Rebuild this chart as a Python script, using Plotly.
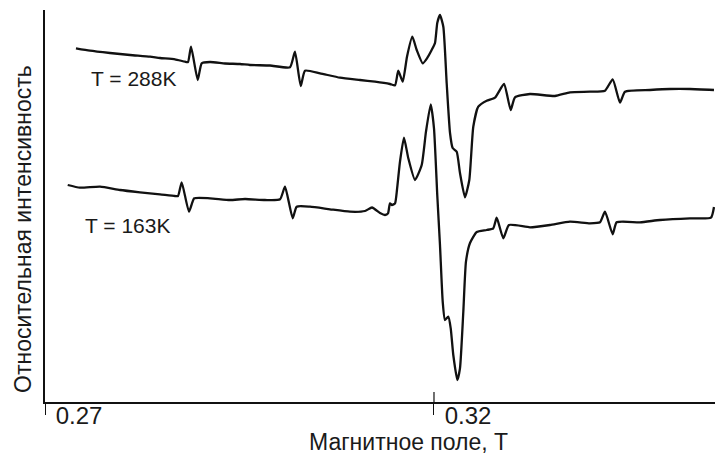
import plotly.graph_objects as go

# ---- data (field in T, intensity in arbitrary units) ----
field_288 = [0.27398, 0.27578, 0.27835, 0.28093, 0.28350, 0.28478, 0.28671, 0.28800, 0.28838,
             0.28877, 0.28963, 0.29014, 0.29121, 0.29314, 0.29506, 0.29635, 0.29892, 0.30149,
             0.30213, 0.30287, 0.30342, 0.30535, 0.30792, 0.31049, 0.31242, 0.31434, 0.31499,
             0.31541, 0.31598, 0.31653, 0.31721, 0.31778, 0.31855, 0.31910, 0.31970, 0.32013,
             0.32042, 0.32077, 0.32120, 0.32163, 0.32206, 0.32240, 0.32292, 0.32334, 0.32398,
             0.32454, 0.32505, 0.32569, 0.32677, 0.32784, 0.32900, 0.32986, 0.33041, 0.33234,
             0.33555, 0.33748, 0.34005, 0.34198, 0.34297, 0.34391, 0.34455, 0.34776, 0.35033,
             0.35290, 0.35599]
int_288 = [353.7, 351.3, 349.0, 347.0, 345.3, 344.0, 342.7, 340.3, 340.0,
           355.3, 322.0, 338.7, 340.0, 338.5, 338.0, 337.0, 336.5, 334.7,
           350.3, 316.0, 331.3, 328.7, 324.3, 322.0, 320.3, 318.0, 316.7,
           331.3, 320.3, 345.3, 365.3, 352.0, 338.7, 343.7, 352.0, 359.0,
           379.0, 387.0, 375.3, 319.0, 269.0, 254.0, 250.3, 229.0, 204.7,
           222.0, 275.3, 295.3, 301.3, 304.3, 318.0, 292.0, 304.7, 308.0,
           306.0, 309.7, 310.3, 311.3, 322.7, 299.3, 310.3, 312.0, 313.0,
           313.0, 312.0]

field_163 = [0.27292, 0.27450, 0.27707, 0.27964, 0.28221, 0.28478, 0.28671, 0.28710, 0.28757,
             0.28851, 0.28919, 0.29121, 0.29378, 0.29571, 0.29828, 0.30021, 0.30085, 0.30184,
             0.30235, 0.30406, 0.30663, 0.30920, 0.31113, 0.31203, 0.31306, 0.31370, 0.31409,
             0.31434, 0.31460, 0.31499, 0.31524, 0.31563, 0.31614, 0.31670, 0.31756, 0.31842,
             0.31897, 0.31958, 0.32000, 0.32042, 0.32077, 0.32112, 0.32141, 0.32184, 0.32215,
             0.32248, 0.32300, 0.32334, 0.32377, 0.32411, 0.32463, 0.32549, 0.32677, 0.32762,
             0.32806, 0.32891, 0.32964, 0.33234, 0.33491, 0.33748, 0.34005, 0.34134, 0.34198,
             0.34297, 0.34348, 0.34648, 0.34905, 0.35290, 0.35560, 0.35599]
int_163 = [217.0, 214.3, 215.3, 212.0, 209.7, 207.7, 206.0, 206.0, 219.7,
           190.3, 203.7, 203.7, 202.0, 203.0, 202.0, 202.7, 215.3, 183.7,
           195.3, 195.3, 192.7, 190.3, 191.0, 194.5, 189.0, 187.0, 188.7,
           198.7, 197.0, 198.7, 212.0, 240.3, 264.3, 243.7, 222.0, 237.0,
           270.3, 297.7, 273.7, 207.0, 157.0, 100.3, 82.0, 85.3, 73.7,
           47.0, 22.0, 33.7, 90.3, 140.3, 159.0, 170.0, 172.0, 173.7,
           184.3, 163.7, 177.0, 174.7, 177.0, 180.3, 178.7, 179.7, 190.3,
           167.7, 179.7, 179.7, 182.0, 183.7, 184.3, 195.0]

tick_vals = [0.27, 0.32]
tick_text = ["0.27", "0.32"]
x_range = [0.27, 0.35612]
y_range = [0, 392]

series_labels = ["T = 288K", "T = 163K"]
x_title = "Магнитное поле, T"
y_title = "Относительная интенсивность"

# ---- figure ----
W, H = 715, 454
ML, MR, MT, MB = 45, 0, 10, 52
PW, PH = W - ML - MR, H - MT - MB

def px_x(px):
    return (px - ML) / PW

def px_y(py):
    return (H - MB - py) / PH

font_main = "Liberation Sans, Arial, sans-serif"
line_col = "#111111"

fig = go.Figure()
fig.add_trace(go.Scatter(x=field_288, y=int_288, mode="lines",
                         line=dict(color=line_col, width=2.3, shape="spline", smoothing=0.5),
                         showlegend=False, hoverinfo="skip"))
fig.add_trace(go.Scatter(x=field_163, y=int_163, mode="lines",
                         line=dict(color=line_col, width=2.3, shape="spline", smoothing=0.5),
                         showlegend=False, hoverinfo="skip"))

fig.update_layout(
    width=W, height=H,
    margin=dict(l=ML, r=MR, t=MT, b=MB, pad=0),
    paper_bgcolor="white", plot_bgcolor="white",
    font=dict(family=font_main, color="#1a1a1a"),
    showlegend=False,
)

fig.update_xaxes(range=x_range, showgrid=False, zeroline=False,
                 showline=True, linecolor="#111111", linewidth=1.5,
                 tickmode="array", tickvals=tick_vals, ticktext=tick_text,
                 ticks="outside", ticklen=11, tickwidth=1.2, tickcolor="#111111",
                 tickfont=dict(size=24, family=font_main, color="#1a1a1a"),
                 ticklabelshift=34, ticklabelstandoff=-20)
fig.update_yaxes(range=y_range, showgrid=False, zeroline=False,
                 showline=True, linecolor="#111111", linewidth=1.5,
                 showticklabels=False, ticks="")

# inside half of the 0.32 tick
fig.add_shape(type="line", xref="x", yref="paper",
              x0=tick_vals[1], x1=tick_vals[1], y0=0, y1=10 / PH,
              line=dict(color="#111111", width=1.2))

# series labels
fig.add_annotation(text=series_labels[0], xref="paper", yref="paper",
                   x=px_x(89), y=px_y(79), xanchor="left", yanchor="middle",
                   showarrow=False, font=dict(size=21, family=font_main, color="#1a1a1a"))
fig.add_annotation(text=series_labels[1], xref="paper", yref="paper",
                   x=px_x(83), y=px_y(226), xanchor="left", yanchor="middle",
                   showarrow=False, font=dict(size=21, family=font_main, color="#1a1a1a"))

# axis titles
fig.add_annotation(text=x_title, xref="paper", yref="paper",
                   x=px_x(409), y=px_y(442), xanchor="center", yanchor="middle",
                   showarrow=False, font=dict(size=23, family=font_main, color="#1a1a1a"))
fig.add_annotation(text=y_title, xref="paper", yref="paper",
                   x=px_x(23), y=px_y(229), xanchor="center", yanchor="middle",
                   textangle=-90, showarrow=False,
                   font=dict(size=23, family=font_main, color="#1a1a1a"))

fig.write_html("out.html")
